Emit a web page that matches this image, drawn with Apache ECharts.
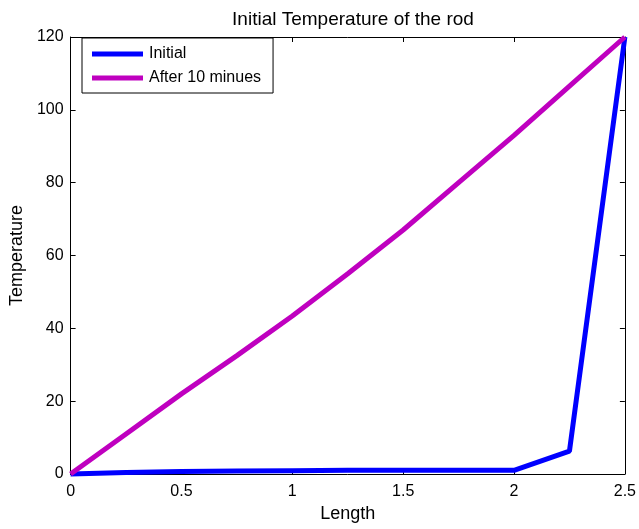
<!DOCTYPE html>
<html>
<head>
<meta charset="utf-8">
<script src="https://cdn.jsdelivr.net/npm/echarts@6/dist/echarts.min.js"></script>
<style>
  html, body { margin: 0; padding: 0; background: #fff; }
  #chart { width: 639px; height: 529px; }
</style>
</head>
<body>
<div id="chart"></div>
<script>
// data
var lengths = [0, 0.25, 0.5, 0.75, 1, 1.25, 1.5, 1.75, 2, 2.25, 2.5];
var initialTemp = [0, 0.4, 0.7, 0.8, 0.9, 1, 1, 1, 1, 6.3, 120];
var after10Temp = [0, 11, 22, 32.5, 43.4, 55, 67, 80, 93, 106.5, 120];
var seriesNames = ['Initial', 'After 10 minues'];

function pairs(xs, ys) {
    return xs.map(function (x, i) { return [x, ys[i]]; });
}

var chart = echarts.init(document.getElementById('chart'));
var font = 'Liberation Sans, Arial, sans-serif';

var xBase = {
    type: 'value', min: 0, max: 2.5, interval: 0.5,
    axisLine: { show: true, onZero: false, lineStyle: { color: '#000', width: 1 } },
    axisTick: { show: true, inside: true, length: 5, lineStyle: { color: '#000' } },
    splitLine: { show: false }
};
var yBase = {
    type: 'value', min: 0, max: 120, interval: 20,
    axisLine: { show: true, onZero: false, lineStyle: { color: '#000', width: 1 } },
    axisTick: { show: true, inside: true, length: 5, lineStyle: { color: '#000' } },
    splitLine: { show: false }
};

var option = {
    animation: false,
    backgroundColor: '#fff',
    title: {
        text: 'Initial Temperature of the rod',
        left: 348, top: 5, textAlign: 'center',
        textStyle: { fontFamily: font, fontSize: 19, fontWeight: 'normal', color: '#000' }
    },
    grid: { left: 69, right: 13, top: 37, bottom: 55 },
    legend: {
        data: seriesNames,
        orient: 'vertical',
        left: 82, top: 38,
        padding: [8, 12, 7, 10],
        itemWidth: 51, itemHeight: 5, itemGap: 8,
        icon: 'rect',
        backgroundColor: '#fff',
        borderColor: '#000', borderWidth: 1, borderRadius: 0,
        textStyle: { fontFamily: font, fontSize: 16, color: '#000', padding: [0, 0, 0, 1] }
    },
    xAxis: [
        Object.assign({}, xBase, {
            position: 'bottom',
            name: 'Length', nameLocation: 'middle', nameGap: 31,
            nameTextStyle: { fontFamily: font, fontSize: 18, color: '#000' },
            axisLabel: { fontFamily: font, fontSize: 16, color: '#000', margin: 10 }
        }),
        Object.assign({}, xBase, { position: 'top', axisLabel: { show: false } })
    ],
    yAxis: [
        Object.assign({}, yBase, {
            position: 'left',
            name: 'Temperature', nameLocation: 'middle', nameGap: 42,
            nameTextStyle: { fontFamily: font, fontSize: 18, color: '#000' },
            axisLabel: { fontFamily: font, fontSize: 16, color: '#000', margin: 7 }
        }),
        Object.assign({}, yBase, { position: 'right', axisLabel: { show: false } })
    ],
    series: [
        {
            name: seriesNames[0], type: 'line', showSymbol: false, symbol: 'none',
            clip: false, color: '#0000ff',
            lineStyle: { width: 5, color: '#0000ff' },
            data: pairs(lengths, initialTemp)
        },
        {
            name: seriesNames[1], type: 'line', showSymbol: false, symbol: 'none',
            clip: false, color: '#bf00bf',
            lineStyle: { width: 5, color: '#bf00bf' },
            data: pairs(lengths, after10Temp)
        }
    ]
};

chart.setOption(option);
</script>
</body>
</html>
